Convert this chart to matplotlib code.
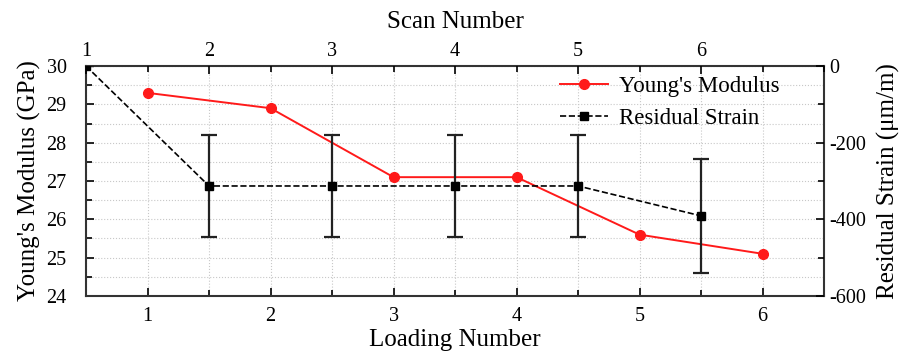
import matplotlib.pyplot as plt
from matplotlib.ticker import MultipleLocator

plt.rcParams['font.family'] = ['Liberation Serif', 'DejaVu Serif']
plt.rcParams['axes.unicode_minus'] = False

# Young's modulus per loading step
loading = [1, 2, 3, 4, 5, 6]
modulus = [29.3, 28.9, 27.1, 27.1, 25.6, 25.1]

# residual strain per scan
scan = [1, 2, 3, 4, 5, 6]
strain = [0, -313, -313, -313, -313, -391]
strain_err = [0, 133, 133, 133, 133, 148]

fig = plt.figure(figsize=(9.09, 3.57), dpi=100)
rect = [0.0946, 0.171, 0.812, 0.644]

ax = fig.add_axes(rect)
ax.set_xlim(0.5, 6.5)
ax.set_ylim(24, 30)
ax.xaxis.set_major_locator(MultipleLocator(1))
ax.xaxis.set_minor_locator(MultipleLocator(0.5))
ax.yaxis.set_major_locator(MultipleLocator(1))
ax.yaxis.set_minor_locator(MultipleLocator(0.5))
ax.grid(which='both', color='#c8c8c8', linestyle=':', linewidth=0.8)
ax.tick_params(which='both', direction='in', labelsize=14.5, width=1.2)
ax.tick_params(which='major', length=6)
ax.tick_params(which='minor', length=4)
ax.tick_params(axis='x', pad=8)
ax.tick_params(axis='y', pad=14)
ax.set_xlabel('Loading Number', fontsize=18, labelpad=2)
ax.set_ylabel("Young's Modulus (GPa)", fontsize=18, labelpad=4)
for s in ax.spines.values():
    s.set_linewidth(1.5)
    s.set_color('#333333')

ym, = ax.plot(loading, modulus, color='#ff1a1a', marker='o', markersize=7,
              linewidth=1.4, label="Young's Modulus")

# strain on its own axes, sharing the frame: top = scan, right = strain
ax2 = fig.add_axes(rect, facecolor='none')
ax2.set_xlim(1, 7)
ax2.set_ylim(-600, 0)
ax2.xaxis.tick_top()
ax2.xaxis.set_label_position('top')
ax2.yaxis.tick_right()
ax2.yaxis.set_label_position('right')
ax2.xaxis.set_major_locator(MultipleLocator(1))
ax2.xaxis.set_minor_locator(MultipleLocator(0.5))
ax2.yaxis.set_major_locator(MultipleLocator(200))
ax2.yaxis.set_minor_locator(MultipleLocator(100))
ax2.set_xticks([1, 2, 3, 4, 5, 6])
ax2.tick_params(which='both', direction='in', labelsize=14.5, width=1.2)
ax2.tick_params(which='major', length=6)
ax2.tick_params(which='minor', length=4)
ax2.set_xlabel('Scan Number', fontsize=18, labelpad=10)
ax2.set_ylabel('Residual Strain (\u03bcm/m)', fontsize=18, labelpad=8)
for s in ax2.spines.values():
    s.set_visible(False)

rs = ax2.errorbar(scan, strain, yerr=strain_err, color='black', ecolor='#222222',
                  linestyle='--', linewidth=1.2, marker='s', markersize=6,
                  elinewidth=1.6, capsize=6, capthick=1.6,
                  label='Residual Strain')

ax2.legend([ym, rs[0]], ["Young's Modulus", 'Residual Strain'],
           loc='upper right', bbox_to_anchor=(0.968, 1.045), frameon=False,
           fontsize=16.5, handlelength=2.1, handletextpad=0.5,
           labelspacing=0.45)

fig.savefig('out.png', dpi=100)
